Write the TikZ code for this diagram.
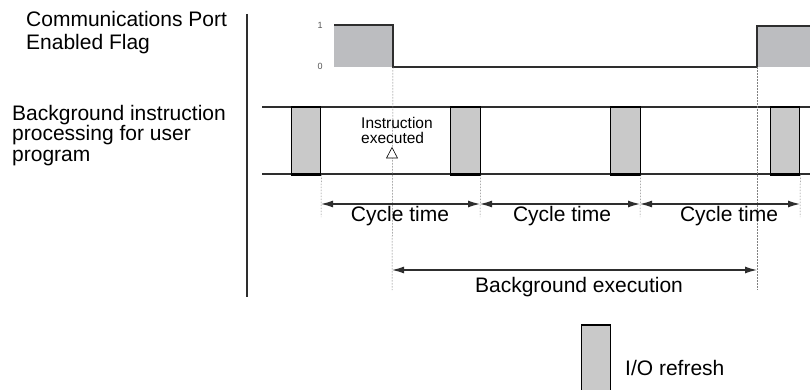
\documentclass[tikz,border=0pt]{standalone}
\usepackage{fontspec}
\setmainfont{Liberation Sans}
\usetikzlibrary{arrows.meta}
\definecolor{flaggray}{HTML}{BCBDC0}
\definecolor{iogray}{HTML}{C9C9C9}
\definecolor{linegray}{HTML}{2E2E2E}
\definecolor{dashgray}{HTML}{808080}
\definecolor{numgray}{HTML}{555555}
\begin{document}
\begin{tikzpicture}[x=1pt,y=-1pt,
  biglbl/.style={font=\fontsize{21}{23}\selectfont, inner sep=0pt, anchor=base west},
  midlbl/.style={font=\fontsize{21}{23}\selectfont, inner sep=0pt, anchor=base},
  smalllbl/.style={font=\fontsize{15.5}{16}\selectfont, inner sep=0pt, anchor=base west},
  numlbl/.style={font=\fontsize{9}{10}\selectfont, text=numgray, inner sep=0pt},
  sigline/.style={draw=linegray, line width=1.3pt},
  iobox/.style={draw=black, fill=iogray, line width=1.1pt, minimum width=29.5pt, minimum height=67pt, inner sep=0pt},
  guide/.style={draw=dashgray, line width=0.5pt, dash pattern=on 1.6pt off 1.4pt},
  dimarrow/.style={draw=linegray, line width=1.2pt, {Latex[length=12pt,width=7pt]}-{Latex[length=12pt,width=7pt]}},
  tri/.style={draw=black, line width=0.6pt, fill=white}
]
\useasboundingbox (0,0) rectangle (810,390);

% left labels
\node[biglbl] (l1a) at (26,26.7) {Communications Port};
\node[biglbl] (l1b) at (26,49.3) {Enabled Flag};
\node[biglbl] (l2a) at (12,121) {Background instruction};
\node[biglbl] (l2b) at (12,141) {processing for user};
\node[biglbl] (l2c) at (12,161) {program};

% separator
\coordinate (sepT) at (247,14);
\coordinate (sepB) at (247,297);
\draw[sigline] (sepT) -- (sepB);

% flag signal
\node[numlbl] (one) at (320,25) {1};
\node[numlbl] (zero) at (320,66) {0};
\coordinate (f1) at (334,25);
\coordinate (f2) at (393,25);
\coordinate (f3) at (393,67);
\coordinate (f4) at (757,67);
\coordinate (f5) at (757,26);
\coordinate (f6) at (812,26);
\fill[flaggray] (f1) rectangle (f3);
\fill[flaggray] (f5) rectangle (812,67);
\draw[sigline] (f1) -- (f2) -- (f3) -- (f4) -- (f5) -- (f6);

% processing band
\coordinate (bTL) at (262,107);
\coordinate (bTR) at (812,107);
\coordinate (bBL) at (262,174);
\coordinate (bBR) at (812,174);
\draw[sigline] (bTL) -- (bTR);
\draw[sigline] (bBL) -- (bBR);

\node[iobox] (io1) at (306,140.5) {};
\node[iobox] (io2) at (465.5,140.5) {};
\node[iobox] (io3) at (625.5,140.5) {};
\node[iobox] (io4) at (785,140.5) {};
\foreach \n in {io1,io2,io3,io4}{
  \draw[black, line width=2pt] (\n.south west) -- (\n.south east);
}

% guides
\coordinate (g1) at (321,217);
\coordinate (g2) at (392,290);
\coordinate (g3) at (480,217);
\coordinate (g4) at (640,217);
\coordinate (g5) at (757,290);
\coordinate (g6) at (800,217);
\draw[guide] (io1.south east) -- (g1);
\draw[guide] (f3) -- (g2);
\draw[guide] (io2.south east) -- (g3);
\draw[guide] (io3.south east) -- (g4);
\draw[guide] (f4) -- (g5);
\draw[guide] (io4.south east) -- (g6);

% instruction executed
\node[smalllbl] (ie1) at (361,128.5) {Instruction};
\node[smalllbl] (ie2) at (361,143.5) {executed};
\coordinate (tA) at (392,147.5);
\coordinate (tL) at (386.5,158);
\coordinate (tR) at (397.5,158);
\draw[tri] (tA) -- (tL) -- (tR) -- cycle;

% cycle time arrows
\coordinate (c1) at (321,204);
\coordinate (c2) at (480,204);
\coordinate (c3) at (640,204);
\coordinate (c4) at (800,204);
\draw[dimarrow] (c1) -- (c2);
\draw[dimarrow] (c2) -- (c3);
\draw[dimarrow] (c3) -- (c4);
\node[midlbl] (ct1) at (400,221) {Cycle time};
\node[midlbl] (ct2) at (562,221) {Cycle time};
\node[midlbl] (ct3) at (729,221) {Cycle time};

% background execution
\coordinate (be1) at (392,270);
\coordinate (be2) at (757,270);
\draw[dimarrow] (be1) -- (be2);
\node[midlbl] (bel) at (579,292) {Background execution};

% legend
\node[iobox] (leg) at (596,358.5) {};
\node[biglbl] (legl) at (625,375.7) {I/O refresh};
\end{tikzpicture}
\end{document}
